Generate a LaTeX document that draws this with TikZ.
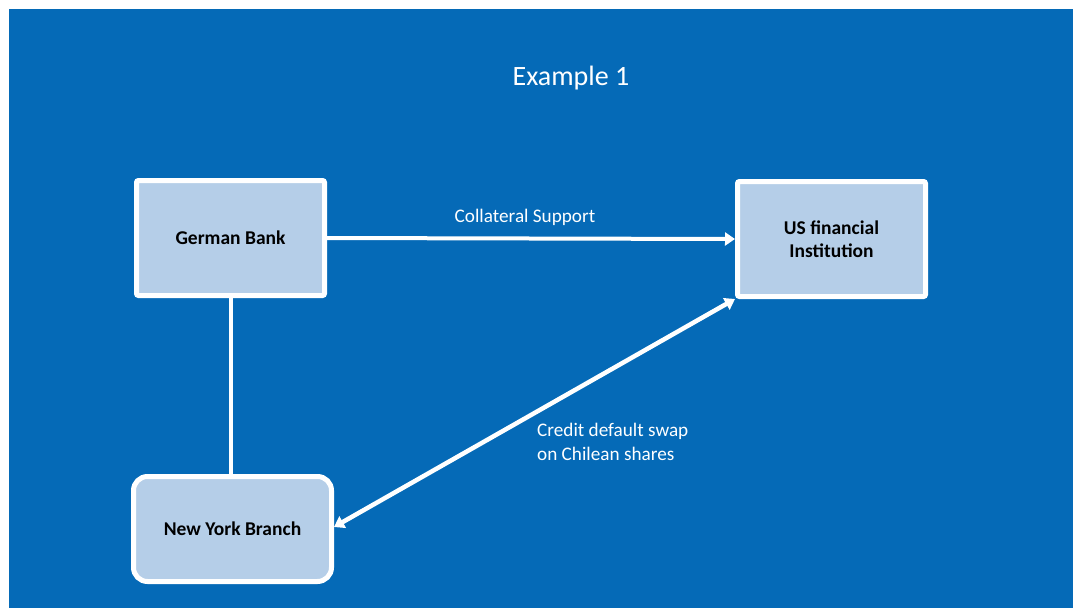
\documentclass[tikz,border=0pt]{standalone}
\usepackage{fontspec}
\setmainfont{Carlito}
\usetikzlibrary{arrows.meta}
\definecolor{bgblue}{RGB}{5,106,183}
\definecolor{boxfill}{RGB}{181,206,232}
\tikzset{
  box/.style={draw=white, line width=5pt, fill=boxfill, minimum width=188pt, minimum height=115pt, font=\fontsize{19.5}{23.5}\selectfont\bfseries, text=black, align=center, inner sep=0pt},
  lbl/.style={text=white, font=\fontsize{19.2}{23.5}\selectfont, inner sep=0pt},
  conn/.style={draw=white, line width=4pt},
  tip/.style={-{Triangle[width=13pt,length=10pt]}}
}
\begin{document}
\begin{tikzpicture}[x=1pt,y=-1pt]
\useasboundingbox (0,0) rectangle (1073,608);
\fill[bgblue] (9,9) rectangle (1073,608);
\node[lbl, font=\fontsize{28}{32}\selectfont] (title) at (571,78) {Example 1};
\node[box, rounded corners=2pt] (gb) at (230.5,238) {German Bank};
\node[box, rounded corners=2pt] (us) at (831.5,239) {US financial\\Institution};
\node[box, rounded corners=14pt, minimum width=198pt, minimum height=105pt] (ny) at (232.5,529) {New York Branch};
\draw[conn, tip] (gb.east) -- (us.west);
\draw[conn] (gb.south) -- (gb.south |- ny.north);
\draw[conn, line width=4.5pt, {Triangle[width=13pt,length=10pt]}-{Triangle[width=13pt,length=10pt]}] (ny.east) ++(0,-2) coordinate (nyp) (nyp) -- (us.south west);
\node[lbl] (coll) at (525,217) {Collateral Support};
\node[lbl, align=left, anchor=north west] (cds) at (537,423) {Credit default swap\\on Chilean shares};
\end{tikzpicture}
\end{document}
